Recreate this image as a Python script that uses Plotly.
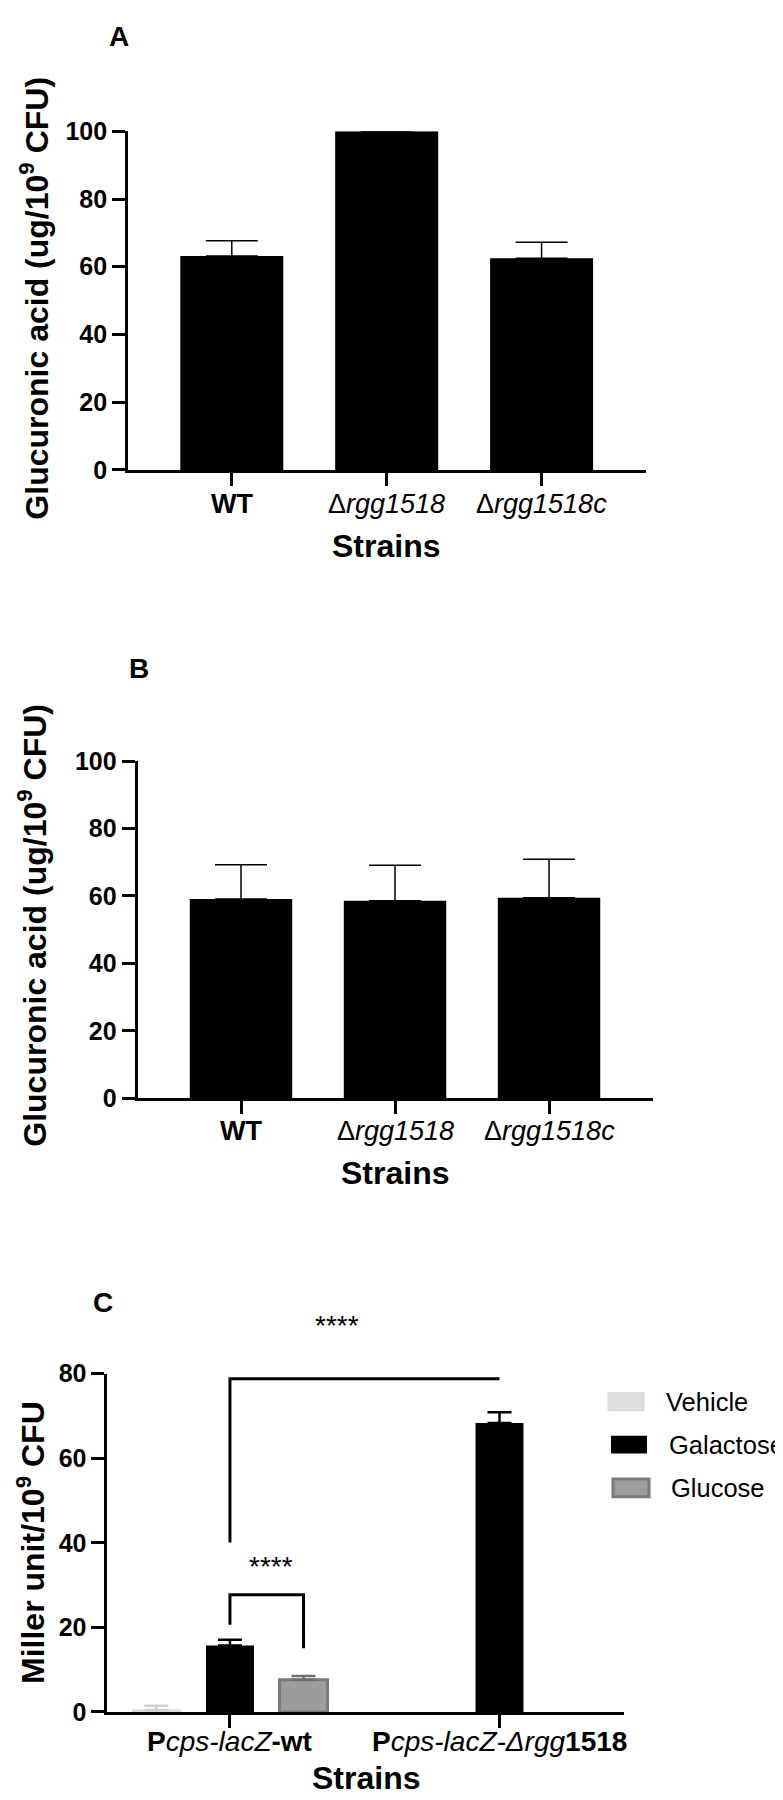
import plotly.graph_objects as go

# ---------------- data ----------------
strains = ["WT", "Δrgg1518", "Δrgg1518c"]
strain_ticktext = ["<b>WT</b>", "Δ<i>rgg1518</i>", "Δ<i>rgg1518c</i>"]

a_mean = [63.2, 100.0, 62.5]
a_err = [4.5, None, 4.7]

b_mean = [59.1, 58.6, 59.5]
b_err = [10.2, 10.5, 11.4]

reporters = ["Pcps-lacZ-wt", "Pcps-lacZ-Δrgg1518"]
reporter_ticktext = ["<b>P</b><i>cps-lacZ</i><b>-wt</b>",
                     "<b>P</b><i>cps-lacZ-Δrgg</i><b>1518</b>"]
conditions = ["Vehicle", "Galactose", "Glucose"]
c_vehicle = [0.5, None]
c_vehicle_err = [1.0, None]
c_galactose = [15.7, 68.3]
c_galactose_err = [1.4, 2.6]
c_glucose = [7.6, None]
c_glucose_err = [0.9, None]

# significance brackets: (group, condition) -> (group, condition)
brackets = [
    dict(a=(0, "Galactose"), b=(1, "Galactose"), top=78.8, leg_a=40.1, leg_b=None),
    dict(a=(0, "Galactose"), b=(0, "Glucose"), top=27.7, leg_a=20.6, leg_b=15.1),
]
star_labels = ["****", "****"]

# ---------------- styling ----------------
W, H = 783, 1800
FONT = "Liberation Sans, Arial, Helvetica, sans-serif"
def px(x): return x / W
def py(y): return 1 - y / H

cond_style = {
    "Vehicle": dict(fill="#dedede", line="#d6d6d6", lw=1, err="#d0d0d0"),
    "Galactose": dict(fill="#000000", line="#000000", lw=0, err="#000000"),
    "Glucose": dict(fill="#9c9c9c", line="#7a7a7a", lw=3, err="#6e6e6e"),
}
cond_offset = {"Vehicle": -0.273, "Galactose": 0.0, "Glucose": 0.273}
c_bar_w = 0.178

fig = go.Figure()

def err(arr):
    return dict(type="data", symmetric=False, array=arr,
                arrayminus=[0 if v is not None else None for v in arr],
                color="black", thickness=1.5, width=26)

fig.add_trace(go.Bar(x=strains, y=a_mean, width=0.665, marker=dict(color="black", line=dict(width=0)),
                     error_y=err(a_err), xaxis="x", yaxis="y", showlegend=False))
fig.add_trace(go.Bar(x=strains, y=b_mean, width=0.665, marker=dict(color="black", line=dict(width=0)),
                     error_y=err(b_err), xaxis="x2", yaxis="y2", showlegend=False))

c_vals = {"Vehicle": (c_vehicle, c_vehicle_err), "Galactose": (c_galactose, c_galactose_err),
          "Glucose": (c_glucose, c_glucose_err)}
for cond in conditions:
    vals, errs = c_vals[cond]
    st = cond_style[cond]
    fig.add_trace(go.Bar(
        x=reporters, y=vals, name=cond, width=c_bar_w,
        offset=cond_offset[cond] - c_bar_w / 2,
        marker=dict(color=st["fill"], line=dict(color=st["line"], width=st["lw"])),
        error_y=dict(type="data", symmetric=False, array=errs,
                     arrayminus=[0 if v is not None else None for v in errs],
                     color=st["err"], thickness=2.5, width=12),
        xaxis="x3", yaxis="y3", showlegend=False))

def xaxis(domain, rng, cats):
    return dict(domain=domain, range=rng, type="category", categoryorder="array", categoryarray=cats,
                showline=True, linewidth=2.7, linecolor="black", ticks="outside", ticklen=13,
                tickwidth=2.7, tickcolor="black", showgrid=False, zeroline=False,
                tickvals=cats, showticklabels=False, fixedrange=True)

def yaxis(domain, anchor, rng, dtick):
    return dict(domain=domain, range=rng, anchor=anchor, showline=True, linewidth=2.7,
                linecolor="black", ticks="outside", ticklen=13, tickwidth=2.7, tickcolor="black",
                showgrid=False, zeroline=False, dtick=dtick, tick0=0,
                tickfont=dict(family=FONT, size=25, color="black", weight="bold"))

fig.update_layout(
    width=W, height=H, margin=dict(l=0, r=0, t=0, b=0),
    paper_bgcolor="white", plot_bgcolor="white", showlegend=False, barmode="group",
    xaxis=dict(xaxis([px(120), px(638)], [-0.67, 2.674], strains), anchor="y"),
    yaxis=yaxis([py(455), py(111)], "x", [0, 100], 20),
    xaxis2=dict(xaxis([px(129.5), px(645.3)], [-0.672, 2.677], strains), anchor="y2"),
    yaxis2=yaxis([py(1093.3), py(750.8)], "x2", [0, 100], 20),
    xaxis3=dict(xaxis([px(99.3), px(616.3)], [-0.455, 1.463], reporters), anchor="y3"),
    yaxis3=yaxis([py(1716.7), py(1373)], "x3", [0, 80], 20),
)

ann = []
def text(t, x, y, size, bold=True, angle=0, xanchor="center"):
    ann.append(dict(text=t, x=px(x), y=py(y), xref="paper", yref="paper", showarrow=False,
                    textangle=angle, xanchor=xanchor, yanchor="middle",
                    font=dict(family=FONT, size=size, color="black", weight="bold" if bold else "normal")))

# category labels tied to the category axes
def cat_labels(xref, cats, labels, y, size):
    for c, lab in zip(cats, labels):
        ann.append(dict(text=lab, x=c, xref=xref, y=py(y), yref="paper", showarrow=False,
                        xanchor="center", yanchor="middle",
                        font=dict(family=FONT, size=size, color="black")))

cat_labels("x", strains, strain_ticktext, 490, 27)
cat_labels("x2", strains, strain_ticktext, 1127, 27)
cat_labels("x3", reporters, reporter_ticktext, 1747, 28)

text("A", 111, 15, 28)
text("B", 131, 657, 28)
text("C", 95, 1301, 28)
text("Glucuronic acid (ug/10<sup>9</sup> CFU)", 26, 281, 32, angle=-90)
text("Glucuronic acid (ug/10<sup>9</sup> CFU)", 24, 918, 32, angle=-90)
text("Miller unit/10<sup>9</sup> CFU", 23, 1545, 32, angle=-90)
text("Strains", 378, 532, 32)
text("Strains", 387, 1169, 32)
text("Strains", 358, 1784, 32)

# significance stars (upper one sits above the axis range, so placed on paper)
ann.append(dict(text=star_labels[0], x=px(329), y=py(1342), xref="paper", yref="paper",
                showarrow=False, font=dict(family=FONT, size=28, color="black")))
ann.append(dict(text=star_labels[1], x=0.153, y=34.5, xref="x3", yref="y3",
                showarrow=False, font=dict(family=FONT, size=28, color="black")))

# legend (drawn manually to match the large swatches)
shapes = []
leg_rows = [(1401.5, 600, 656), (1445, 603, 659), (1489, 605, 661)]
for cond, (yc, x0, tx) in zip(conditions, leg_rows):
    st = cond_style[cond]
    shapes.append(dict(type="rect", xref="paper", yref="paper",
                       x0=px(x0), x1=px(x0 + 36), y0=py(yc + 9), y1=py(yc - 9),
                       fillcolor=st["fill"], line=dict(color=st["line"], width=st["lw"] if st["lw"] else 0)))
    text(cond, tx, yc, 25.5, bold=False, xanchor="left")

# significance brackets
for br in brackets:
    xa = br["a"][0] + cond_offset[br["a"][1]]
    xb = br["b"][0] + cond_offset[br["b"][1]]
    path = f"M {xa} {br['leg_a']} L {xa} {br['top']} L {xb} {br['top']}"
    if br["leg_b"] is not None:
        path += f" L {xb} {br['leg_b']}"
    shapes.append(dict(type="path", xref="x3", yref="y3", path=path,
                       line=dict(color="black", width=3)))

fig.update_layout(annotations=ann, shapes=shapes)
fig.write_html("out.html")
